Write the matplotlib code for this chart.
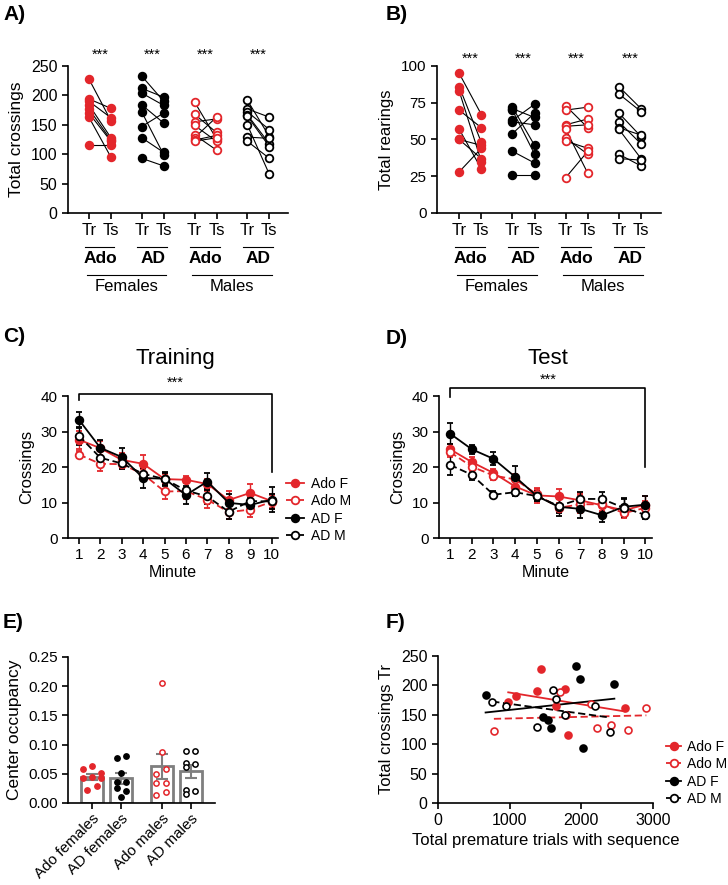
import numpy as np
import matplotlib.pyplot as plt
import matplotlib.transforms as mtransforms
from matplotlib.lines import Line2D

plt.rcParams['font.family'] = ['Liberation Sans', 'DejaVu Sans']
plt.rcParams['axes.linewidth'] = 1.2
plt.rcParams['xtick.major.width'] = 1.2
plt.rcParams['ytick.major.width'] = 1.2

RED = '#e3262b'

# ---- panel A: total crossings (Tr / Ts), per animal
cross_adof_tr = [228, 194, 190, 184, 177, 170, 163, 115]
cross_adof_ts = [157, 178, 162, 128, 124, 122, 95, 115]
cross_adf_tr = [233, 212, 204, 184, 172, 147, 128, 93]
cross_adf_ts = [190, 197, 183, 153, 99, 170, 103, 80]
cross_adom_tr = [189, 168, 155, 149, 133, 128, 124, 122]
cross_adom_ts = [126, 137, 160, 122, 107, 163, 132, 128]
cross_adm_tr = [192, 177, 172, 167, 165, 150, 129, 122]
cross_adm_ts = [130, 163, 142, 118, 113, 66, 127, 93]

# ---- panel B: total rearings
rear_adof_tr = [95, 86, 83, 70, 57, 50, 50, 28]
rear_adof_ts = [67, 48, 35, 58, 30, 46, 37, 44]
rear_adf_tr = [72, 71, 70, 63, 62, 54, 42, 26]
rear_adf_ts = [46, 65, 40, 74, 60, 68, 34, 26]
rear_adom_tr = [73, 70, 60, 59, 57, 51, 49, 24]
rear_adom_ts = [58, 72, 64, 60, 27, 40, 44, 42]
rear_adm_tr = [86, 81, 68, 62, 58, 57, 40, 37]
rear_adm_ts = [71, 69, 52, 47, 53, 37, 32, 36]

# ---- panels C / D: crossings per minute (mean, sem)
minutes = list(range(1, 11))
train_adof = [27.7, 25.3, 22.0, 20.9, 16.6, 16.4, 15.2, 10.7, 12.7, 10.4]
train_adof_err = [2.5, 2.0, 2.0, 2.6, 1.5, 1.0, 1.5, 2.5, 2.4, 2.0]
train_adom = [23.5, 20.9, 20.8, 18.0, 13.1, 13.2, 10.8, 7.3, 8.0, 10.2]
train_adom_err = [1.0, 2.0, 1.3, 1.5, 2.0, 2.3, 2.3, 2.0, 2.0, 2.0]
train_adf = [33.3, 25.4, 22.8, 16.9, 16.7, 12.1, 15.9, 9.9, 9.3, 10.8]
train_adf_err = [2.2, 2.2, 2.5, 2.8, 2.0, 2.5, 2.3, 2.5, 2.0, 3.5]
train_adm = [28.8, 22.6, 21.0, 18.1, 16.6, 13.4, 11.7, 7.4, 10.4, 10.3]
train_adm_err = [2.5, 2.0, 1.5, 1.5, 1.8, 2.0, 2.0, 2.0, 1.8, 2.0]

test_adof = [25.0, 21.4, 18.3, 14.5, 12.0, 11.7, 10.6, 9.2, 7.8, 9.4]
test_adof_err = [1.5, 1.5, 1.0, 1.5, 2.0, 2.0, 2.0, 2.0, 1.5, 2.5]
test_adom = [24.2, 20.1, 17.6, 16.5, 12.3, 8.5, 9.5, 9.5, 7.0, 8.5]
test_adom_err = [1.5, 1.5, 1.2, 1.5, 1.5, 1.5, 2.5, 2.0, 1.5, 2.0]
test_adf = [29.4, 25.0, 22.3, 17.2, 11.8, 8.8, 8.2, 6.4, 8.8, 9.4]
test_adf_err = [3.0, 1.2, 1.8, 3.0, 1.5, 2.5, 2.5, 2.0, 2.5, 2.5]
test_adm = [20.6, 17.8, 12.2, 12.9, 11.8, 9.0, 11.0, 11.0, 8.5, 6.5]
test_adm_err = [2.8, 1.5, 1.0, 1.2, 1.5, 2.0, 2.0, 2.0, 2.5, 1.2]

# ---- panel E: center occupancy per animal
occ_adof = [0.058, 0.063, 0.052, 0.042, 0.044, 0.042, 0.023, 0.029]
occ_adf = [0.077, 0.080, 0.052, 0.036, 0.036, 0.025, 0.021, 0.010]
occ_adom = [0.205, 0.088, 0.050, 0.058, 0.034, 0.034, 0.014, 0.018]
occ_adm = [0.089, 0.089, 0.069, 0.066, 0.062, 0.022, 0.021, 0.015]
occ_labels = ['Ado females', 'AD females', 'Ado males', 'AD males']
# horizontal scatter offsets of the points inside each bar
dx_adof = [-0.31, 0, 0.31, -0.31, 0, 0.31, -0.17, 0.17]
dx_adf = [-0.15, 0.16, 0, -0.15, 0.16, -0.15, 0.16, 0]
dx_adom = [0, 0, -0.19, 0.16, -0.19, 0.16, -0.19, 0.16]
dx_adm = [-0.16, 0.15, -0.16, 0.15, -0.16, -0.16, 0.15, -0.16]

# ---- panel F: premature trials vs total crossings Tr
prem_adof = [980, 1082, 1384, 1440, 1653, 1779, 1811, 2605]
crtr_adof = [172, 182, 190, 228, 165, 194, 115, 162]
prem_adom = [780, 1709, 1790, 2136, 2220, 2415, 2652, 2907]
crtr_adom = [122, 189, 149, 169, 127, 133, 124, 161]
prem_adf = [664, 1463, 1533, 1579, 1923, 1978, 2020, 2461]
crtr_adf = [184, 147, 142, 128, 233, 211, 93, 202]
prem_adm = [757, 943, 1384, 1598, 1644, 1779, 2187, 2397]
crtr_adm = [172, 165, 130, 192, 177, 149, 165, 121]

# style per group: (colour, filled, linestyle)
sty = {
    'Ado F': (RED, True, '-'),
    'Ado M': (RED, False, (0, (4, 2))),
    'AD F': ('black', True, '-'),
    'AD M': ('black', False, (0, (4, 2))),
}

W, H = 728, 885
fig = plt.figure(figsize=(W / 100, H / 100), dpi=100)


def add_ax(x0, y0, x1, y1):
    a = fig.add_axes([x0 / W, 1 - y1 / H, (x1 - x0) / W, (y1 - y0) / H])
    a.spines['top'].set_visible(False)
    a.spines['right'].set_visible(False)
    a.tick_params(labelsize=11, length=4)
    return a


def mk(name):
    c, filled, ls = sty[name]
    return dict(color=c, mfc=c if filled else 'white', mec=c, mew=1.3)


pair_pos = [0, 2.4, 4.8, 7.2]
pair_groups = ['Ado F', 'AD F', 'Ado M', 'AD M']


def paired_panel(ax, trs, tss, ymax, ystep, ylabel, star_y, xlim, ylsize):
    for k, name in enumerate(pair_groups):
        x0 = pair_pos[k]
        for a, b in zip(trs[k], tss[k]):
            ax.plot([x0, x0 + 1], [a, b], color='black', lw=0.8, zorder=2)
        m = mk(name)
        ax.plot([x0] * len(trs[k]), trs[k], ls='none', marker='o', ms=5.5, zorder=3,
                color=m['color'], mfc=m['mfc'], mec=m['mec'], mew=m['mew'])
        ax.plot([x0 + 1] * len(tss[k]), tss[k], ls='none', marker='o', ms=5.5, zorder=3,
                color=m['color'], mfc=m['mfc'], mec=m['mec'], mew=m['mew'])
        ax.text(x0 + 0.5, star_y, '***', ha='center', va='center', fontsize=10.5,
                clip_on=False)
    ax.set_ylim(0, ymax)
    ax.set_yticks(np.arange(0, ymax + 1, ystep))
    ax.set_xlim(*xlim)
    ticks = []
    for x0 in pair_pos:
        ticks += [x0, x0 + 1]
    ax.set_xticks(ticks)
    ax.set_xticklabels(['Tr', 'Ts'] * 4, fontsize=12)
    ax.set_ylabel(ylabel, fontsize=ylsize, labelpad=5)
    trans = mtransforms.blended_transform_factory(ax.transData, ax.transAxes)
    for k, name in enumerate(['Ado', 'AD', 'Ado', 'AD']):
        x0 = pair_pos[k]
        ax.plot([x0 - 0.2, x0 + 1.15], [-0.232, -0.232], transform=trans,
                color='black', lw=0.8, clip_on=False)
        ax.text(x0 + 0.5, -0.31, name, transform=trans, ha='center', va='center',
                fontsize=12.5, fontweight='bold')
    for k, name in enumerate(['Females', 'Males']):
        x0 = pair_pos[2 * k]
        x1 = pair_pos[2 * k + 1] + 1
        ax.plot([x0 - 0.1, x1 + 0.1], [-0.42, -0.42], transform=trans,
                color='black', lw=0.8, clip_on=False)
        ax.text((x0 + x1) / 2, -0.50, name, transform=trans, ha='center', va='center',
                fontsize=12)


# A
axA = add_ax(68, 66, 288, 213)
axA.tick_params(labelsize=11.5)
paired_panel(axA,
             [cross_adof_tr, cross_adf_tr, cross_adom_tr, cross_adm_tr],
             [cross_adof_ts, cross_adf_ts, cross_adom_ts, cross_adm_ts],
             250, 50, 'Total crossings', 269, (-0.95, 9.05), 12.5)

# B
axB = add_ax(437, 66, 661, 213)
paired_panel(axB,
             [rear_adof_tr, rear_adf_tr, rear_adom_tr, rear_adm_tr],
             [rear_adof_ts, rear_adf_ts, rear_adom_ts, rear_adm_ts],
             100, 25, 'Total rearings', 105, (-1.0, 9.1), 12)


def minute_panel(ax, series, title, br_top, br_l, br_r, star_y):
    for name, (mean, err) in series.items():
        m = mk(name)
        ls = sty[name][2]
        ax.errorbar(minutes, mean, yerr=err, color=m['color'], ls=ls, lw=1.3,
                    marker='o', ms=5.5, mfc=m['mfc'], mec=m['mec'], mew=m['mew'],
                    capsize=2.5, elinewidth=1.0, capthick=1.0)
    ax.set_ylim(0, 40)
    ax.set_yticks([0, 10, 20, 30, 40])
    ax.set_xlim(0.49, 10.3)
    ax.set_xticks(minutes)
    ax.set_xlabel('Minute', fontsize=11.5, labelpad=2)
    ax.set_ylabel('Crossings', fontsize=12, labelpad=5)
    ax.plot([1, 1, 10, 10], [br_l, br_top, br_top, br_r], color='black', lw=1.2,
            clip_on=False)
    ax.text(5.5, star_y, '***', ha='center', va='center', fontsize=10.5, clip_on=False)
    ax.text(5.5, 50.5, title, ha='center', va='center', fontsize=16, clip_on=False)


axC = add_ax(68, 396, 278, 538)
minute_panel(axC, {'Ado F': (train_adof, train_adof_err),
                   'Ado M': (train_adom, train_adom_err),
                   'AD F': (train_adf, train_adf_err),
                   'AD M': (train_adm, train_adm_err)},
             'Training', 40.6, 38.9, 18.6, 43.7)

axD = add_ax(439, 396, 652, 538)
minute_panel(axD, {'Ado F': (test_adof, test_adof_err),
                   'Ado M': (test_adom, test_adom_err),
                   'AD F': (test_adf, test_adf_err),
                   'AD M': (test_adm, test_adm_err)},
             'Test', 42.2, 39.7, 20.0, 44.5)


def legend_handles():
    hs = []
    for name in ['Ado F', 'Ado M', 'AD F', 'AD M']:
        m = mk(name)
        hs.append(Line2D([], [], color=m['color'], ls=sty[name][2], lw=1.3, marker='o',
                         ms=5.5, mfc=m['mfc'], mec=m['mec'], mew=m['mew']))
    return hs


names = ['Ado F', 'Ado M', 'AD F', 'AD M']
fig.legend(legend_handles(), names, loc='center left',
           bbox_to_anchor=(286 / W, 1 - 510 / H), frameon=False, fontsize=10,
           handlelength=1.3, handletextpad=0.5, labelspacing=0.25, borderpad=0,
           borderaxespad=0)

# E
axE = add_ax(68, 657, 215, 803)
bar_pos = [0, 1, 2.4, 3.4]
occ_all = [occ_adof, occ_adf, occ_adom, occ_adm]
dx_all = [dx_adof, dx_adf, dx_adom, dx_adm]
occ_groups = ['Ado F', 'AD F', 'Ado M', 'AD M']
means = [np.mean(v) for v in occ_all]
sems = [np.std(v, ddof=1) / np.sqrt(len(v)) for v in occ_all]
axE.bar(bar_pos, means, width=0.76, color='white', edgecolor='#7f7f7f', lw=2.0, zorder=1)
axE.errorbar(bar_pos, means, yerr=sems, fmt='none', ecolor='#7f7f7f', elinewidth=1.5,
             capsize=4, capthick=1.5, zorder=2)
for k, name in enumerate(occ_groups):
    m = mk(name)
    xs = [bar_pos[k] + d for d in dx_all[k]]
    axE.plot(xs, occ_all[k], ls='none', marker='o', ms=3.8, color=m['color'],
             mfc=m['mfc'], mec=m['mec'], mew=1.1, zorder=3)
axE.set_ylim(0, 0.25)
axE.set_yticks([0, 0.05, 0.10, 0.15, 0.20, 0.25])
axE.set_yticklabels(['0.00', '0.05', '0.10', '0.15', '0.20', '0.25'])
axE.set_xlim(-0.83, 4.24)
axE.set_xticks(bar_pos)
axE.set_xticklabels(occ_labels, rotation=45, ha='right', rotation_mode='anchor',
                    fontsize=11)
axE.tick_params(axis='x', pad=2)
axE.set_ylabel('Center occupancy', fontsize=12.5, labelpad=4)

# F
axF = add_ax(438, 656, 653, 803)
axF.tick_params(labelsize=11.5)
f_data = {'Ado F': (prem_adof, crtr_adof), 'Ado M': (prem_adom, crtr_adom),
          'AD F': (prem_adf, crtr_adf), 'AD M': (prem_adm, crtr_adm)}
for name, (xs, ys) in f_data.items():
    m = mk(name)
    axF.plot(xs, ys, ls='none', marker='o', ms=5, color=m['color'], mfc=m['mfc'],
             mec=m['mec'], mew=1.2, zorder=3)
    b, a = np.polyfit(xs, ys, 1)
    xr = np.array([min(xs), max(xs)])
    axF.plot(xr, a + b * xr, color=m['color'], ls=sty[name][2], lw=1.3, zorder=2)
axF.set_xlim(0, 3000)
axF.set_ylim(0, 250)
axF.set_xticks([0, 1000, 2000, 3000])
axF.set_yticks([0, 50, 100, 150, 200, 250])
axF.set_xlabel('Total premature trials with sequence', fontsize=12, labelpad=3)
axF.set_ylabel('Total crossings Tr', fontsize=12, labelpad=5)
fig.legend(legend_handles(), names, loc='center left',
           bbox_to_anchor=(666 / W, 1 - 773 / H), frameon=False, fontsize=10,
           handlelength=1.1, handletextpad=0.4, labelspacing=0.25, borderpad=0,
           borderaxespad=0)

# panel letters
for lab, x, y in [('A)', 3, 14), ('B)', 386, 14), ('C)', 3, 336), ('D)', 386, 338),
                  ('E)', 3, 623), ('F)', 386, 623)]:
    fig.text(x / W, 1 - y / H, lab, fontsize=15, fontweight='bold', va='center')

fig.savefig('out.png', dpi=100)
